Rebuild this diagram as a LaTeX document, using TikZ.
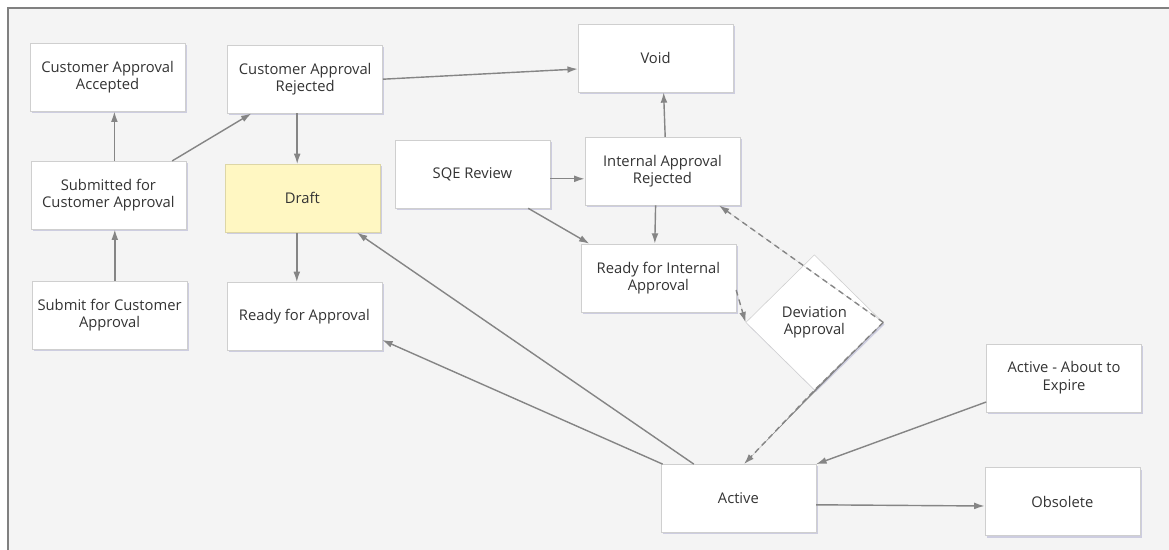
\documentclass[tikz,border=0pt]{standalone}
\usepackage{fontspec}
\setmainfont{Open Sans}
\usetikzlibrary{shapes.geometric, arrows.meta, shadows}

\definecolor{panelgray}{HTML}{F4F4F4}
\definecolor{framegray}{HTML}{808080}
\definecolor{boxline}{HTML}{CFCFCF}
\definecolor{linegray}{HTML}{858585}
\definecolor{draftyellow}{HTML}{FFF7C2}
\definecolor{draftline}{HTML}{DDD6A6}
\definecolor{txtgray}{HTML}{333333}

\begin{document}
\begin{tikzpicture}[
    state/.style={rectangle, draw=boxline, fill=white, minimum width=3.875cm, minimum height=1.7cm,
        align=center, font=\fontsize{10.5}{12.6}\selectfont, text=txtgray,
        drop shadow={shadow xshift=0.04cm, shadow yshift=-0.05cm, opacity=0.25, fill=blue!30!gray}},
    decision/.style={diamond, draw=boxline, fill=white, minimum width=3.43cm, minimum height=3.38cm,
        inner sep=0pt, align=center, font=\fontsize{10.5}{12.6}\selectfont, text=txtgray,
        drop shadow={shadow xshift=0.04cm, shadow yshift=-0.05cm, opacity=0.25, fill=blue!30!gray}},
    arrow/.style={-{Latex[length=2.6mm, width=1.7mm]}, draw=linegray, fill=linegray, line width=1pt},
    dasharrow/.style={arrow, dashed, dash pattern=on 4pt off 3pt}
]
    \useasboundingbox (0,0) rectangle (29.225,-13.75);
    % panel
    \fill[panelgray] (0.195,-0.195) rectangle (29.225,-13.75);
    \draw[framegray, line width=1.2pt] (0.195,-13.75) -- (0.195,-0.195) -- (29.225,-0.195);

    \node[state] (accepted) at (2.69,-1.93) {Customer Approval\\Accepted};
    \node[state] (custrejected) at (7.63,-1.98) {Customer Approval\\Rejected};
    \node[state] (void) at (16.39,-1.45) {Void};
    \node[state] (submitted) at (2.71,-4.88) {Submitted for\\Customer Approval};
    \node[state, fill=draftyellow, draw=draftline] (draft) at (7.56,-4.96) {Draft};
    \node[state] (sqe) at (11.81,-4.35) {SQE Review};
    \node[state] (intrejected) at (16.56,-4.28) {Internal Approval\\Rejected};
    \node[state] (readyint) at (16.46,-6.95) {Ready for Internal\\Approval};
    \node[decision] (deviation) at (20.36,-8.06) {Deviation\\Approval};
    \node[state] (submit) at (2.74,-7.88) {Submit for Customer\\Approval};
    \node[state] (readyapp) at (7.61,-7.91) {Ready for Approval};
    \node[state] (expire) at (26.6,-9.45) {Active - About to\\Expire};
    \node[state] (active) at (18.46,-12.46) {Active};
    \node[state] (obsolete) at (26.56,-12.54) {Obsolete};

    \draw[arrow] ([xshift=0.15cm]submitted.north) -- ([xshift=0.15cm]submitted.north |- accepted.south);
    \draw[arrow] ([xshift=-0.35cm]submitted.north east) -- ([xshift=0.6cm]custrejected.south west);
    \draw[arrow] ([xshift=0.13cm]submit.north) -- ([xshift=0.13cm]submit.north |- submitted.south);
    \draw[arrow] ([xshift=-0.2cm]custrejected.south) -- ([xshift=-0.2cm]custrejected.south |- draft.north);
    \draw[arrow] (custrejected.east) -- ([yshift=-0.275cm]void.west);
    \draw[arrow] ([xshift=-0.14cm]draft.south) -- ([xshift=-0.14cm]draft.south |- readyapp.north);
    \draw[arrow] ([yshift=-0.12cm]sqe.east) -- ([yshift=-0.12cm]sqe.east -| intrejected.west);
    \draw[arrow] ([xshift=-0.55cm]sqe.south east) -- ([xshift=0.22cm]readyint.north west);
    \draw[arrow] ([xshift=0.07cm]intrejected.north) -- ([xshift=0.2cm]void.south);
    \draw[arrow] ([xshift=-0.17cm]intrejected.south) -- ([xshift=-0.09cm]readyint.north);
    \draw[dasharrow] ([yshift=-0.3cm]readyint.east) -- (deviation.west);
    \draw[dasharrow] (deviation.east) -- ([xshift=-0.53cm]intrejected.south east);
    \draw[dasharrow] (deviation.east) -- (deviation.south) -- ([xshift=0.14cm]active.north);
    \draw[arrow] ([xshift=0.83cm]active.north west) -- ([xshift=-0.58cm]draft.south east);
    \draw[arrow] ([xshift=0.05cm]active.north west) -- ([yshift=-0.59cm]readyapp.east);
    \draw[arrow] ([yshift=-0.6cm]expire.west) -- (active.north east);
    \draw[arrow] ([yshift=-0.16cm]active.east) -- ([yshift=-0.11cm]obsolete.west);
\end{tikzpicture}
\end{document}
